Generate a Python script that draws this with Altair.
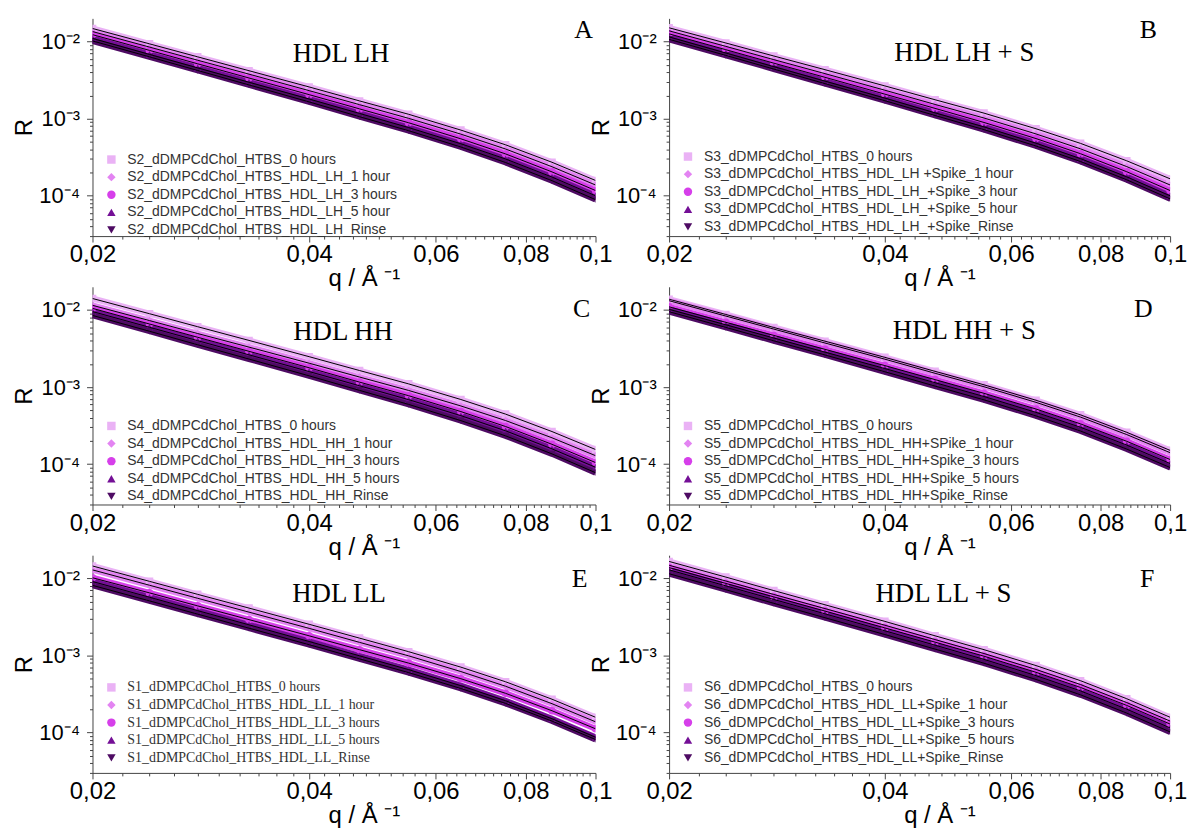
import altair as alt
import pandas as pd

Q = [0.020, 0.024, 0.028, 0.033, 0.040, 0.047, 0.055, 0.065, 0.075, 0.087, 0.100]

# Panel A  (HDL LH)
A_0h = [1.48e-2, 9.35e-3, 6.34e-3, 4.19e-3, 2.58e-3, 1.70e-3, 1.14e-3, 7.11e-4, 4.58e-4, 2.72e-4, 1.58e-4]
A_1h = [1.35e-2, 8.49e-3, 5.73e-3, 3.78e-3, 2.31e-3, 1.52e-3, 1.01e-3, 6.30e-4, 4.04e-4, 2.38e-4, 1.38e-4]
A_3h = [1.23e-2, 7.69e-3, 5.15e-3, 3.37e-3, 2.05e-3, 1.34e-3, 8.85e-4, 5.48e-4, 3.49e-4, 2.04e-4, 1.17e-4]
A_5h = [1.10e-2, 6.82e-3, 4.56e-3, 2.97e-3, 1.80e-3, 1.17e-3, 7.67e-4, 4.73e-4, 3.00e-4, 1.75e-4, 1.00e-4]
A_rinse = [1.02e-2, 6.34e-3, 4.22e-3, 2.74e-3, 1.65e-3, 1.06e-3, 6.98e-4, 4.29e-4, 2.70e-4, 1.57e-4, 8.91e-5]

# Panel B  (HDL LH + S)
B_0h = [1.51e-2, 9.59e-3, 6.50e-3, 4.32e-3, 2.66e-3, 1.76e-3, 1.18e-3, 7.40e-4, 4.78e-4, 2.84e-4, 1.66e-4]
B_1h = [1.38e-2, 8.67e-3, 5.83e-3, 3.84e-3, 2.34e-3, 1.53e-3, 1.02e-3, 6.34e-4, 4.06e-4, 2.39e-4, 1.38e-4]
B_3h = [1.26e-2, 7.85e-3, 5.25e-3, 3.44e-3, 2.08e-3, 1.36e-3, 8.93e-4, 5.52e-4, 3.51e-4, 2.05e-4, 1.17e-4]
B_5h = [1.15e-2, 7.11e-3, 4.73e-3, 3.07e-3, 1.85e-3, 1.19e-3, 7.83e-4, 4.81e-4, 3.03e-4, 1.76e-4, 1.00e-4]
B_rinse = [1.07e-2, 6.62e-3, 4.40e-3, 2.85e-3, 1.71e-3, 1.10e-3, 7.21e-4, 4.42e-4, 2.78e-4, 1.61e-4, 9.12e-5]

# Panel C  (HDL HH)
C_0h = [1.41e-2, 8.95e-3, 6.07e-3, 4.03e-3, 2.48e-3, 1.64e-3, 1.10e-3, 6.90e-4, 4.46e-4, 2.65e-4, 1.55e-4]
C_1h = [1.15e-2, 7.29e-3, 4.95e-3, 3.30e-3, 2.04e-3, 1.35e-3, 9.04e-4, 5.69e-4, 3.68e-4, 2.20e-4, 1.29e-4]
C_3h = [1.05e-2, 6.58e-3, 4.43e-3, 2.91e-3, 1.78e-3, 1.16e-3, 7.73e-4, 4.81e-4, 3.08e-4, 1.81e-4, 1.05e-4]
C_5h = [9.55e-3, 5.97e-3, 4.00e-3, 2.62e-3, 1.59e-3, 1.04e-3, 6.87e-4, 4.26e-4, 2.71e-4, 1.58e-4, 9.12e-5]
C_rinse = [8.51e-3, 5.30e-3, 3.54e-3, 2.31e-3, 1.40e-3, 9.06e-4, 5.96e-4, 3.67e-4, 2.33e-4, 1.36e-4, 7.76e-5]

# Panel D  (HDL HH + S)
D_0h = [1.38e-2, 8.75e-3, 5.93e-3, 3.94e-3, 2.43e-3, 1.60e-3, 1.07e-3, 6.75e-4, 4.36e-4, 2.59e-4, 1.51e-4]
D_1h = [1.32e-2, 8.34e-3, 5.65e-3, 3.73e-3, 2.30e-3, 1.51e-3, 1.01e-3, 6.34e-4, 4.08e-4, 2.42e-4, 1.41e-4]
D_3h = [1.10e-2, 6.92e-3, 4.68e-3, 3.09e-3, 1.90e-3, 1.25e-3, 8.30e-4, 5.19e-4, 3.33e-4, 1.98e-4, 1.15e-4]
D_5h = [1.02e-2, 6.43e-3, 4.33e-3, 2.84e-3, 1.74e-3, 1.14e-3, 7.55e-4, 4.70e-4, 3.01e-4, 1.77e-4, 1.02e-4]
D_rinse = [9.50e-3, 5.95e-3, 3.98e-3, 2.61e-3, 1.58e-3, 1.03e-3, 6.83e-4, 4.23e-4, 2.69e-4, 1.57e-4, 9.05e-5]

# Panel E  (HDL LL)
E_0h = [1.45e-2, 9.16e-3, 6.21e-3, 4.12e-3, 2.54e-3, 1.68e-3, 1.12e-3, 7.06e-4, 4.56e-4, 2.71e-4, 1.58e-4]
E_1h = [1.29e-2, 8.15e-3, 5.52e-3, 3.65e-3, 2.25e-3, 1.48e-3, 9.89e-4, 6.19e-4, 3.99e-4, 2.37e-4, 1.38e-4]
E_3h = [1.02e-2, 6.49e-3, 4.40e-3, 2.92e-3, 1.80e-3, 1.19e-3, 7.96e-4, 5.00e-4, 3.23e-4, 1.92e-4, 1.12e-4]
E_5h = [9.12e-3, 5.70e-3, 3.82e-3, 2.50e-3, 1.52e-3, 9.91e-4, 6.56e-4, 4.06e-4, 2.59e-4, 1.51e-4, 8.71e-5]
E_rinse = [8.13e-3, 5.11e-3, 3.44e-3, 2.26e-3, 1.38e-3, 9.04e-4, 6.00e-4, 3.73e-4, 2.39e-4, 1.41e-4, 8.13e-5]

# Panel F  (HDL LL + S)
F_0h = [1.66e-2, 1.04e-2, 6.95e-3, 4.55e-3, 2.77e-3, 1.80e-3, 1.19e-3, 7.40e-4, 4.71e-4, 2.75e-4, 1.58e-4]
F_1h = [1.48e-2, 9.25e-3, 6.19e-3, 4.06e-3, 2.47e-3, 1.61e-3, 1.06e-3, 6.59e-4, 4.20e-4, 2.45e-4, 1.41e-4]
F_3h = [1.38e-2, 8.61e-3, 5.75e-3, 3.77e-3, 2.28e-3, 1.49e-3, 9.79e-4, 6.05e-4, 3.85e-4, 2.25e-4, 1.29e-4]
F_5h = [1.29e-2, 8.00e-3, 5.33e-3, 3.47e-3, 2.09e-3, 1.36e-3, 8.91e-4, 5.48e-4, 3.47e-4, 2.01e-4, 1.15e-4]
F_rinse = [1.15e-2, 7.13e-3, 4.75e-3, 3.09e-3, 1.87e-3, 1.21e-3, 7.94e-4, 4.89e-4, 3.09e-4, 1.79e-4, 1.02e-4]

LABELS_A = ["S2_dDMPCdChol_HTBS_0 hours", "S2_dDMPCdChol_HTBS_HDL_LH_1 hour",
            "S2_dDMPCdChol_HTBS_HDL_LH_3 hours", "S2_dDMPCdChol_HTBS_HDL_LH_5 hour",
            " S2_dDMPCdChol_HTBS_HDL_LH_Rinse"]
LABELS_B = ["S3_dDMPCdChol_HTBS_0 hours", "S3_dDMPCdChol_HTBS_HDL_LH +Spike_1 hour",
            "S3_dDMPCdChol_HTBS_HDL_LH_+Spike_3 hour", "S3_dDMPCdChol_HTBS_HDL_LH_+Spike_5 hour",
            "S3_dDMPCdChol_HTBS_HDL_LH_+Spike_Rinse"]
LABELS_C = ["S4_dDMPCdChol_HTBS_0 hours", "S4_dDMPCdChol_HTBS_HDL_HH_1 hour",
            "S4_dDMPCdChol_HTBS_HDL_HH_3 hours", "S4_dDMPCdChol_HTBS_HDL_HH_5 hours",
            "S4_dDMPCdChol_HTBS_HDL_HH_Rinse"]
LABELS_D = ["S5_dDMPCdChol_HTBS_0 hours", "S5_dDMPCdChol_HTBS_HDL_HH+SPike_1 hour",
            "S5_dDMPCdChol_HTBS_HDL_HH+Spike_3 hours", "S5_dDMPCdChol_HTBS_HDL_HH+Spike_5 hours",
            "S5_dDMPCdChol_HTBS_HDL_HH+Spike_Rinse"]
LABELS_E = ["S1_dDMPCdChol_HTBS_0 hours", "S1_dDMPCdChol_HTBS_HDL_LL_1 hour",
            "S1_dDMPCdChol_HTBS_HDL_LL_3 hours", "S1_dDMPCdChol_HTBS_HDL_LL_5 hours",
            "S1_dDMPCdChol_HTBS_HDL_LL_Rinse"]
LABELS_F = ["S6_dDMPCdChol_HTBS_0 hours", "S6_dDMPCdChol_HTBS_HDL_LL+Spike_1 hour",
            "S6_dDMPCdChol_HTBS_HDL_LL+Spike_3 hours", "S6_dDMPCdChol_HTBS_HDL_LL+Spike_5 hours",
            "S6_dDMPCdChol_HTBS_HDL_LL+Spike_Rinse"]

COLORS = ["#EAB2F5", "#E384F2", "#D63FEA", "#740F96", "#4E0B63"]
SHAPES = ["square", "diamond", "circle", "triangle-up", "triangle-down"]

X_TICKS = [0.02, 0.022, 0.024, 0.026, 0.028, 0.03, 0.032, 0.034, 0.036, 0.038,
           0.04, 0.042, 0.044, 0.046, 0.048, 0.05, 0.052, 0.054, 0.056, 0.058,
           0.06, 0.062, 0.064, 0.066, 0.068, 0.07, 0.072, 0.074, 0.076, 0.078,
           0.08, 0.082, 0.084, 0.086, 0.088, 0.09, 0.092, 0.094, 0.096, 0.098, 0.1]
Y_TICKS = [3e-05, 4e-05, 5e-05, 6e-05, 7e-05, 8e-05, 9e-05,
           0.0001, 0.0002, 0.0003, 0.0004, 0.0005, 0.0006, 0.0007, 0.0008, 0.0009,
           0.001, 0.002, 0.003, 0.004, 0.005, 0.006, 0.007, 0.008, 0.009, 0.01]

X_MAJOR = "datum.value == 0.02 || datum.value == 0.04 || datum.value == 0.06 || datum.value == 0.08 || datum.value == 0.1"
X_LABEL = ("datum.value == 0.02 ? '0,02' : datum.value == 0.04 ? '0,04' : "
           "datum.value == 0.06 ? '0,06' : datum.value == 0.08 ? '0,08' : "
           "datum.value == 0.1 ? '0,1' : ''")
Y_MAJOR = "datum.value == 0.01 || datum.value == 0.001 || datum.value == 0.0001"
Y_LABEL = ("datum.value == 0.01 ? '10⁻²' : datum.value == 0.001 ? '10⁻³' : "
           "datum.value == 0.0001 ? '10⁻⁴' : ''")

H = 219


def panel(vals, labels, title, letter, width, tpos, lpos, legend_y, legend_font):
    rows = []
    for lab, series in zip(labels, vals):
        for q, r in zip(Q, series):
            rows.append({"q": q, "R": r, "series": lab})
    df = pd.DataFrame(rows)

    xaxis = alt.Axis(values=X_TICKS, labelExpr=X_LABEL, title="q / Å ⁻¹",
                     labelFontSize=24, titleFontSize=24, labelFlush=False,
                     labelOverlap=False, labelPadding=1, titlePadding=0,
                     titleX=width / 2 + 20,
                     tickSize={"condition": {"test": X_MAJOR, "value": 6}, "value": 3})
    yaxis = alt.Axis(values=Y_TICKS, labelExpr=Y_LABEL, title="R",
                     labelFontSize=22, titleFontSize=24, labelFlush=False,
                     labelOverlap=False, labelPadding=7, titlePadding=2,
                     tickSize={"condition": {"test": Y_MAJOR, "value": 6}, "value": 3})
    x = alt.X("q:Q", scale=alt.Scale(type="log", domain=[0.02, 0.1], nice=False), axis=xaxis)
    y = alt.Y("R:Q", scale=alt.Scale(type="log", domain=[3e-5, 0.02], nice=False), axis=yaxis)

    legend = alt.Legend(orient="none", legendX=12, legendY=legend_y, title=None,
                        labelFontSize=14, labelFont=legend_font, labelColor="#333333",
                        symbolSize=72, labelOffset=9, rowPadding=3.7, labelLimit=600,
                        padding=0)

    base = alt.Chart(df)
    layers = []
    # coloured band of measured points, one layer per series (no colour scale involved)
    for lab, col in zip(labels, COLORS):
        layers.append(
            base.transform_filter(alt.datum.series == lab)
            .mark_line(strokeWidth=6, color=col, clip=True)
            .encode(x=x, y=y)
        )
    pts = base.mark_point(filled=True, size=58, opacity=1, clip=True).encode(
        x=x, y=y,
        color=alt.Color("series:N", scale=alt.Scale(domain=labels, range=COLORS), legend=legend),
        shape=alt.Shape("series:N", scale=alt.Scale(domain=labels, range=SHAPES), legend=legend),
    )
    layers.append(pts)
    fit = base.mark_line(color="black", strokeWidth=1, clip=True).encode(
        x=x, y=y, detail="series:N"
    )
    layers.append(fit)
    ttl = alt.Chart(pd.DataFrame({"t": [title]})).mark_text(
        font="Liberation Serif", fontSize=27, align="center", baseline="middle", color="black"
    ).encode(text="t:N", x=alt.value(tpos[0]), y=alt.value(tpos[1]))
    let = alt.Chart(pd.DataFrame({"t": [letter]})).mark_text(
        font="Liberation Serif", fontSize=26, align="center", baseline="middle", color="black"
    ).encode(text="t:N", x=alt.value(lpos[0]), y=alt.value(lpos[1]))
    layers += [ttl, let]
    return alt.layer(*layers).properties(width=width, height=H)


pA = panel([A_0h, A_1h, A_3h, A_5h, A_rinse], LABELS_A, "HDL LH", "A", 506,
           (250, 36), (494, 12), 135, "Liberation Sans")
pB = panel([B_0h, B_1h, B_3h, B_5h, B_rinse], LABELS_B, "HDL LH + S", "B", 504,
           (297, 35), (482, 12), 132, "Liberation Sans")
pC = panel([C_0h, C_1h, C_3h, C_5h, C_rinse], LABELS_C, "HDL HH", "C", 506,
           (252, 46), (492, 22), 133, "Liberation Sans")
pD = panel([D_0h, D_1h, D_3h, D_5h, D_rinse], LABELS_D, "HDL HH + S", "D", 504,
           (297, 45), (477, 22), 133, "Liberation Sans")
pE = panel([E_0h, E_1h, E_3h, E_5h, E_rinse], LABELS_E, "HDL LL", "E", 506,
           (248, 39), (490, 24), 126, "Liberation Serif")
pF = panel([F_0h, F_1h, F_3h, F_5h, F_rinse], LABELS_F, "HDL LL + S", "F", 504,
           (276, 39), (481, 24), 126, "Liberation Sans")

chart = alt.concat(pA, pB, pC, pD, pE, pF, columns=2,
                   spacing={"row": 51, "column": 74}, bounds="flush").resolve_scale(
    x="independent", y="independent", color="independent", shape="independent"
).properties(
    padding={"left": 5, "top": 7, "right": 2, "bottom": 0}
).configure_view(stroke=None).configure_axis(
    labelFont="Liberation Sans", titleFont="Liberation Sans", titleFontWeight="normal",
    domainColor="#444444", tickColor="#444444", labelColor="black", titleColor="black",
    grid=False
)

chart.save("out.html", embed_options={"renderer": "svg", "actions": False})
